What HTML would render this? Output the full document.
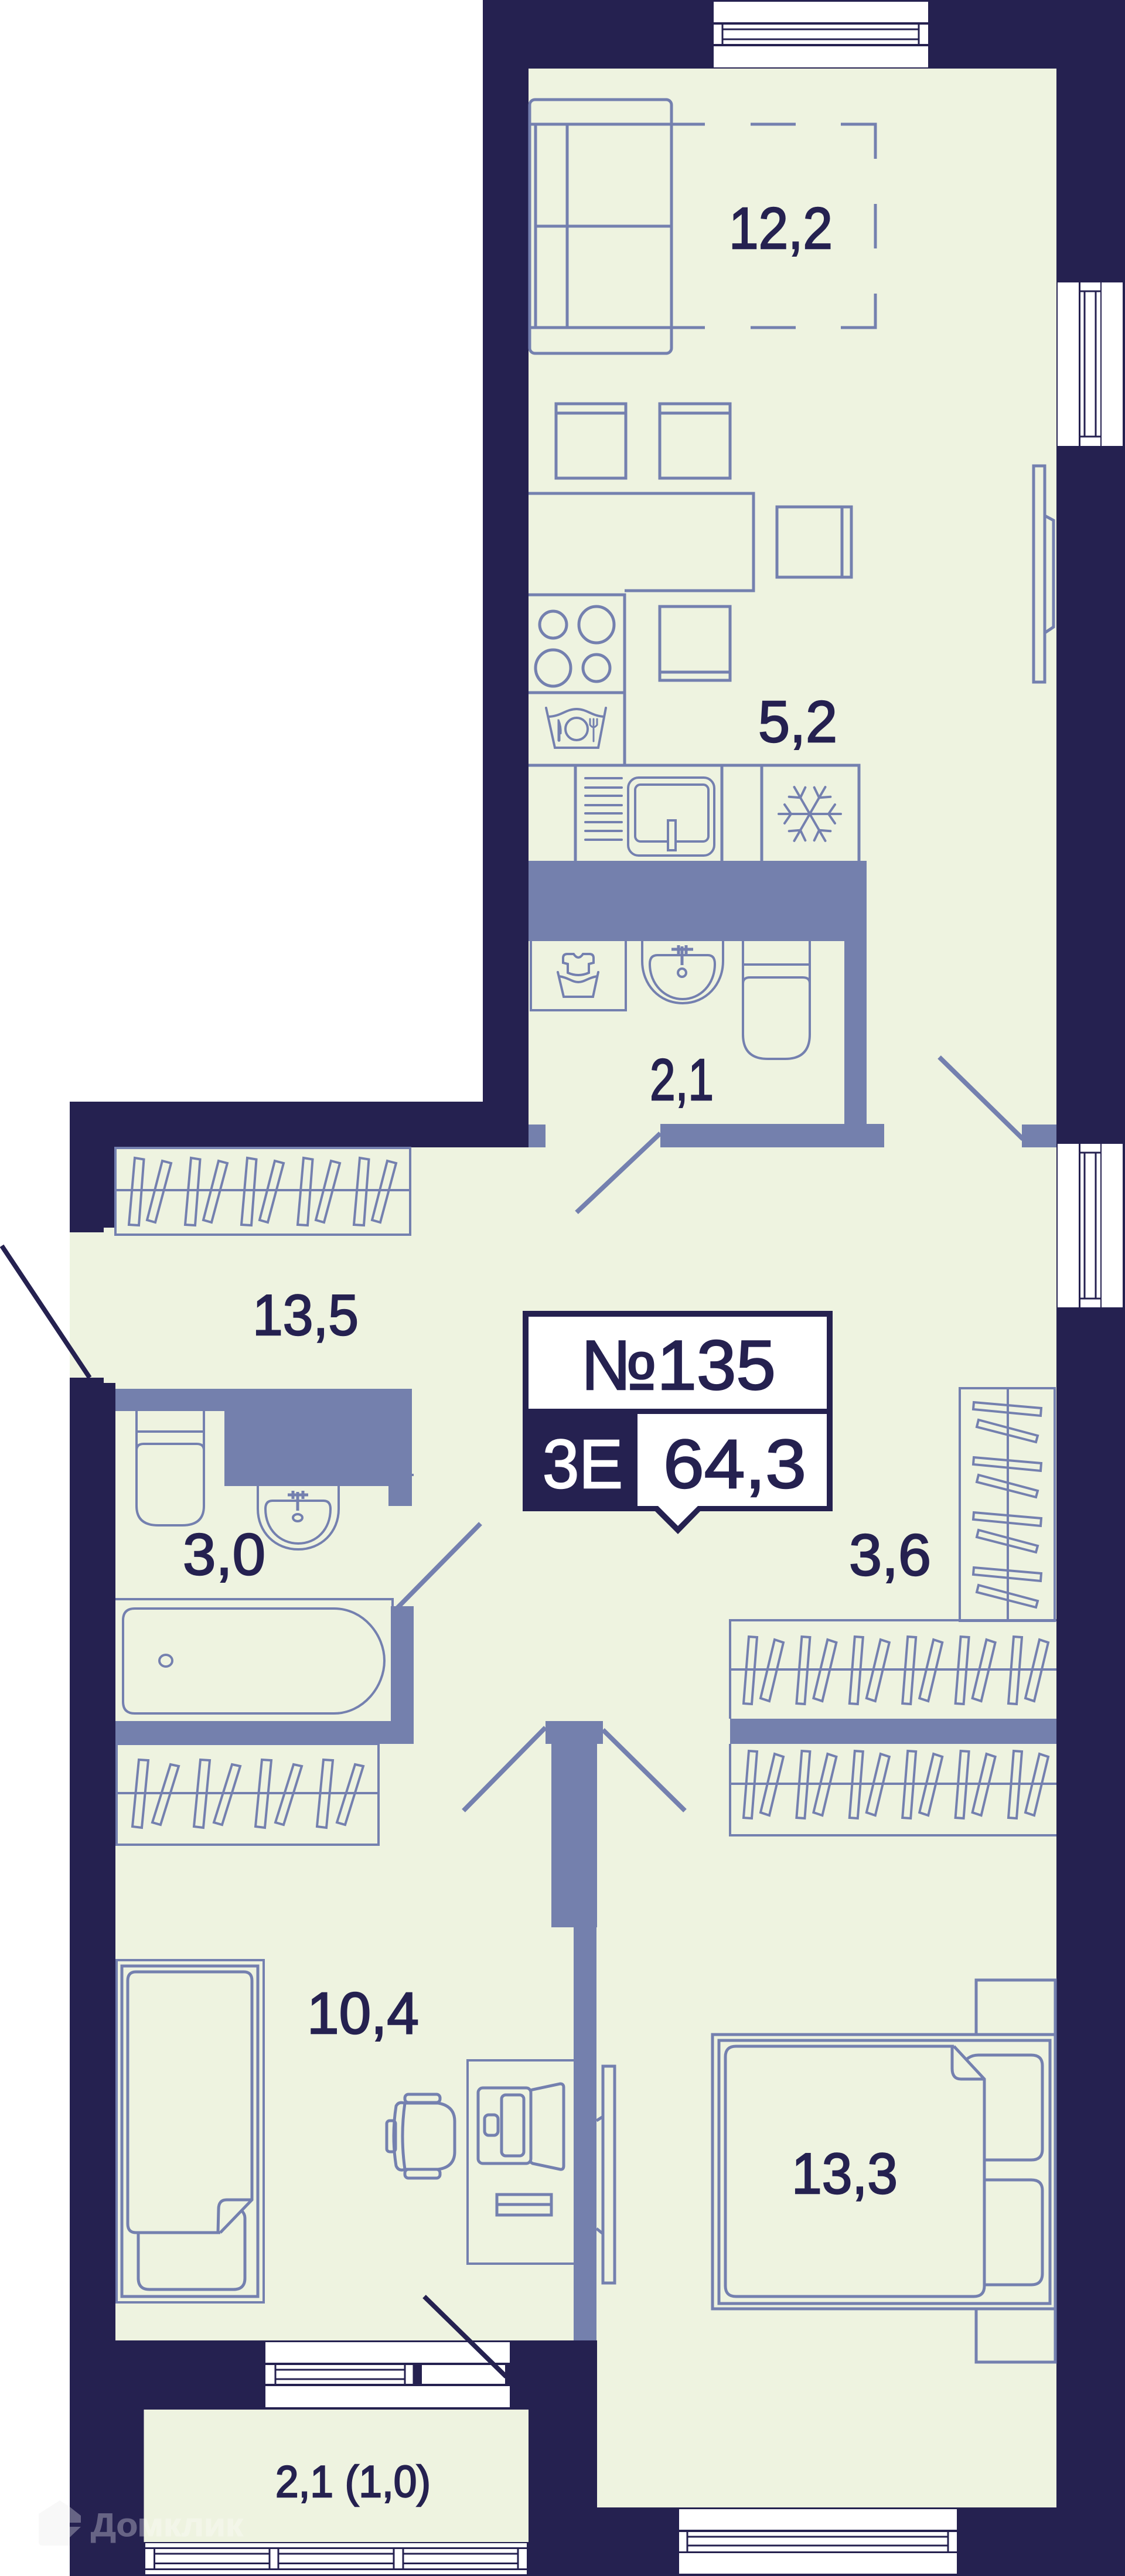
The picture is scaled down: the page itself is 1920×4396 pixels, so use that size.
<!DOCTYPE html>
<html lang="ru">
<head>
<meta charset="utf-8">
<title>Планировка №135</title>
<style>
html,body{margin:0;padding:0;background:#fff;}
svg{display:block;}
text{font-family:"Liberation Sans","Noto Sans CJK SC",sans-serif;fill:#252150;stroke:#252150;stroke-width:2.4;}
.f{fill:none;stroke:#7480af;stroke-width:5;}
.t{fill:none;stroke:#7480af;stroke-width:4;}
.w{fill:#7480ad;}
.d{stroke:#252150;stroke-width:3;fill:none;}
.door{stroke:#7480af;stroke-width:8;fill:none;}
.ddoor{stroke:#252150;stroke-width:8;fill:none;}
.win{fill:#fff;}
</style>
</head>
<body>
<svg width="1920" height="4396" viewBox="0 0 1920 4396" xmlns="http://www.w3.org/2000/svg">
<defs>
<g id="c1" class="t"><polygon points="230,1976 245.5,1978.5 237,2091 220,2090"/><polygon points="277,1981 292,1985 265,2086 251,2082"/></g>
<g id="c2" class="t"><polygon points="237,3003 253,3004 242,3119 226,3117"/><polygon points="291,3011 305,3014 274,3114 260,3110"/></g>
<g id="c3" class="t"><polygon points="1662,2393 1777,2403 1776,2416 1661,2405"/><polygon points="1670,2423 1771,2450 1768,2461 1667,2435"/></g>
<g id="c4" class="t"><polygon points="1278,2793 1292,2794 1283,2908 1269,2907"/><polygon points="1322,2798 1337,2803 1313,2903 1298,2898"/></g>
<g id="arm"><line x1="-53" y1="0" x2="53" y2="0"/><polyline points="-43,-16 -32,0 -43,16"/><polyline points="43,-16 32,0 43,16"/></g>
</defs>

<rect width="1920" height="4396" fill="#fff"/>
<!-- walls -->
<polygon fill="#252150" points="824,0 1920,0 1920,4396 119,4396 119,1880 824,1880"/>
<!-- floors -->
<polygon fill="#eef3e0" points="902,117 1803,117 1803,4279 1019,4279 1019,3994 197,3994 197,2360 177,2360 177,2351 119,2351 119,2103 177,2103 177,2095 197,2095 197,1958 902,1958"/>
<rect x="245.5" y="4112" width="656.5" height="226" fill="#eef3e0"/>

<!-- windows -->
<g class="win">
<rect x="1218" y="3" width="366" height="35"/><rect x="1218" y="42" width="366" height="33"/><rect x="1218" y="79" width="366" height="36"/>
<rect x="1805" y="482" width="36" height="279"/><rect x="1844" y="482" width="34" height="279"/><rect x="1880" y="482" width="36" height="279"/>
<rect x="1805" y="1952" width="36" height="279"/><rect x="1844" y="1952" width="34" height="279"/><rect x="1880" y="1952" width="36" height="279"/>
<rect x="1159" y="4282" width="474" height="35"/><rect x="1159" y="4321" width="474" height="33"/><rect x="1159" y="4357" width="474" height="35"/>
<rect x="453" y="3997" width="417" height="35"/><rect x="453" y="4036" width="409" height="32"/><rect x="453" y="4072" width="417" height="36"/>
<rect x="248" y="4340" width="651" height="7"/><rect x="248" y="4350" width="651" height="33"/><rect x="248" y="4386" width="651" height="7"/>
</g>
<g class="d">
<path d="M1233 42V75M1568 42V75M1233 50H1568M1233 67H1568"/>
<path d="M1844 497H1878M1844 745H1878M1851 497V745M1870 497V745"/>
<path d="M1844 1967H1878M1844 2216H1878M1851 1967V2216M1870 1967V2216"/>
<path d="M1173 4321V4354M1618 4321V4354M1173 4329H1618M1173 4344H1618"/>
<path d="M470 4036V4068M691 4036V4068M706 4036V4068M470 4044H691M470 4060H691"/>
<path d="M263.5 4350V4383M460 4350V4383M475 4350V4383M672 4350V4383M688 4350V4383M884 4350V4383M263 4358H460M263 4374.500H460M475 4358H672M475 4374.500H672M688 4358H884M688 4374.500H884"/>
</g>
<rect x="706" y="4036" width="14" height="32" fill="#252150"/>

<!-- inner walls -->
<g class="w">
<rect x="902" y="1469" width="577" height="137"/>
<rect x="1441" y="1469" width="38" height="489"/>
<rect x="1127" y="1918" width="382" height="40"/>
<rect x="902" y="1919" width="29" height="39"/>
<rect x="1744" y="1919" width="59" height="39"/>
<rect x="197" y="2370" width="506" height="38"/>
<rect x="383" y="2370" width="320" height="166"/>
<rect x="663" y="2500" width="40" height="70"/>
<rect x="703" y="2515" width="3" height="4"/>
<rect x="667" y="2741" width="39" height="235"/>
<rect x="197" y="2937" width="509" height="39"/>
<rect x="931" y="2937" width="98" height="39"/>
<rect x="941" y="2937" width="78" height="352"/>
<rect x="979" y="3289" width="39" height="705"/>
<rect x="1246" y="2933" width="557" height="43"/>
</g>

<!-- doors -->
<line class="door" x1="1603" y1="1804" x2="1746" y2="1944"/>
<line class="door" x1="1127" y1="1934" x2="984" y2="2069"/>
<line class="door" x1="820" y1="2600" x2="678" y2="2744"/>
<line class="door" x1="931" y1="2948" x2="791" y2="3090"/>
<line class="door" x1="1029" y1="2952" x2="1169" y2="3090"/>
<line class="ddoor" x1="3" y1="2126" x2="153" y2="2351"/>
<line class="ddoor" x1="724" y1="3919" x2="864" y2="4056"/>

<!-- sofa + carpet -->
<g class="f">
<rect x="904" y="170" width="242" height="433" rx="9"/>
<path d="M902 212H1203M1281 212H1358M1435 212H1494V271M1494 348V424M1494 501V559H1435M1358 559H1281M1203 559H902"/>
<path d="M914 212V559M968 212V559M914 386H1146"/>
<!-- dining -->
<rect x="949" y="689" width="119" height="127"/><line x1="949" y1="705" x2="1068" y2="705"/>
<rect x="1126" y="689" width="120" height="127"/><line x1="1126" y1="705" x2="1246" y2="705"/>
<polyline points="902,842 1286,842 1286,1008 1066,1008"/>
<rect x="1326" y="865" width="127" height="120"/><line x1="1437" y1="865" x2="1437" y2="985"/>
<rect x="1126" y="1035" width="120" height="126"/><line x1="1126" y1="1147" x2="1246" y2="1147"/>
<!-- tv -->
<rect x="1764" y="795" width="19" height="369"/>
<polyline points="1783,880 1798,888 1798,1070 1783,1080"/>
<!-- stove -->
<polyline points="902,1015 1066,1015 1066,1306"/>
<line x1="902" y1="1182" x2="1066" y2="1182"/>
<circle cx="944" cy="1066" r="23"/><ellipse cx="1018" cy="1066" rx="30" ry="31"/>
<ellipse cx="944" cy="1140" rx="30" ry="31"/><circle cx="1018" cy="1140" r="23"/>
<!-- counter -->
<polyline points="902,1306 1466,1306 1466,1469"/>
<path d="M982 1306V1469M1232 1306V1469M1300 1306V1469"/>
</g>
<g class="t">
<path d="M932 1208L947 1276H1021L1034 1208" stroke-linecap="round"/>
<path d="M937 1223C958 1222 966 1210 984 1210C1002 1210 1010 1222 1031 1223"/>
<circle cx="984" cy="1244" r="19"/>
<path d="M954 1228Q959 1240 958 1252L956 1253V1264Q954 1267 952 1264V1228Z" fill="#7480af" stroke-width="1"/>
<path d="M1013 1240V1265M1007 1227V1237Q1013 1245 1019 1237V1227M1013 1227V1240" stroke-width="3" stroke-linecap="round"/>
<path d="M999 1328H1061M999 1344H1061M999 1358H1061M999 1374H1061M999 1388H1061M999 1403H1061M999 1418H1061M999 1433H1061" stroke-linecap="round"/>
<rect x="1072" y="1327" width="147" height="133" rx="18"/>
<rect x="1084" y="1339" width="125" height="97" rx="9"/>
<rect x="1140" y="1400" width="13" height="51" fill="#eef3e0"/>
</g>
<g class="t" transform="translate(1382 1389)" stroke-linecap="round">
<use href="#arm"/><use href="#arm" transform="rotate(60)"/><use href="#arm" transform="rotate(120)"/>
</g>

<!-- bathroom 1 -->
<g class="t">
<path d="M906 1606V1724H1068V1606"/>
<polyline points="952,1659 962,1701 1012,1701 1021,1659" stroke-linecap="round"/>
<path d="M954 1666C970 1668 976 1676 987 1676C998 1676 1004 1668 1020 1666"/>
<path d="M968 1628H979Q987 1640 995 1628H1006Q1013 1628 1013 1635V1643L1005 1645V1660Q987 1668 969 1660V1645L961 1643V1635Q961 1628 968 1628Z"/>
<path d="M1096 1606V1640C1096 1680 1125 1712 1165 1712C1205 1712 1234 1680 1234 1640V1606"/>
<path d="M1122 1630H1208Q1220 1630 1220 1645C1220 1680 1195 1705 1165 1705C1135 1705 1109 1680 1109 1645Q1109 1630 1122 1630Z"/>
<path d="M1146 1620H1183M1158 1613V1628M1171 1613V1628M1164 1615V1647" stroke-width="5"/>
<circle cx="1164" cy="1660" r="7"/>
<path d="M1268 1606V1765Q1268 1807 1310 1807H1340Q1382 1807 1382 1765V1606M1268 1646H1382M1268 1678Q1268 1668 1280 1668H1370Q1382 1668 1382 1678"/>
</g>

<!-- closets -->
<g class="t">
<rect x="197" y="1959" width="503" height="148"/><line x1="197" y1="2031" x2="700" y2="2031"/>
<use href="#c1"/><use href="#c1" x="96"/><use href="#c1" x="192"/><use href="#c1" x="288"/><use href="#c1" x="384"/>
<rect x="199" y="2976" width="447" height="172"/><line x1="199" y1="3060" x2="646" y2="3060"/>
<use href="#c2"/><use href="#c2" x="105"/><use href="#c2" x="210"/><use href="#c2" x="315"/>
<rect x="1638" y="2369" width="162" height="397"/><line x1="1720" y1="2369" x2="1720" y2="2766"/>
<use href="#c3"/><use href="#c3" y="94"/><use href="#c3" y="188"/><use href="#c3" y="282"/>
<polyline points="1803,2765 1246,2765 1246,2933"/>
<polyline points="1246,2976 1246,3132 1803,3132"/>
<line x1="1246" y1="2849" x2="1803" y2="2849"/><line x1="1246" y1="3044" x2="1803" y2="3044"/>
<use href="#c4"/><use href="#c4" x="90.4"/><use href="#c4" x="180.8"/><use href="#c4" x="271.2"/><use href="#c4" x="361.6"/><use href="#c4" x="452"/>
<use href="#c4" y="195"/><use href="#c4" x="90.4" y="195"/><use href="#c4" x="180.8" y="195"/><use href="#c4" x="271.2" y="195"/><use href="#c4" x="361.6" y="195"/><use href="#c4" x="452" y="195"/>
</g>

<!-- bathroom 2 -->
<g class="t">
<path d="M233 2408V2570Q233 2603 270 2603H311Q348 2603 348 2570V2408M233 2443H348M233 2475Q233 2464 245 2464H336Q348 2464 348 2475"/>
<path d="M440 2536V2575C440 2615 470 2644 509 2644C548 2644 578 2615 578 2575V2536"/>
<path d="M465 2561H552Q564 2561 564 2575C564 2610 540 2634 509 2634C478 2634 453 2610 453 2575Q453 2561 465 2561Z"/>
<path d="M491 2551H526M500 2544V2558M517 2544V2558M508 2546V2578" stroke-width="5"/>
<ellipse cx="508" cy="2590" rx="8" ry="6"/>
<polyline points="197,2729 670,2729 670,2741"/>
<path d="M230 2745H570C620 2745 656 2790 656 2834C656 2878 620 2924 570 2924H230Q210 2924 210 2904V2765Q210 2745 230 2745Z"/>
<ellipse cx="283" cy="2834" rx="11" ry="10"/>
</g>

<!-- bed left -->
<g class="f">
<rect x="199" y="3345" width="251" height="584" stroke-width="4"/>
<rect x="208" y="3355" width="232" height="564"/>
<path d="M376 3810H232Q218 3810 218 3795V3380Q218 3365 232 3365H416Q430 3365 430 3380V3754L376 3810"/>
<path d="M430 3754H387Q373 3754 373 3770L372 3810"/>
<path d="M236 3810V3888Q236 3907 255 3907H398Q418 3907 418 3888V3785Q418 3778 412 3772"/>
<!-- desk -->
<polyline points="979,3516 798,3516 798,3863 979,3863" stroke-width="4"/>
<rect x="816" y="3563" width="90" height="129" rx="8"/>
<rect x="856" y="3575" width="38" height="104" rx="7"/>
<rect x="827" y="3609" width="23" height="35" rx="7"/>
<path d="M906 3567L909 3566L956 3556Q962 3556 962 3562V3696Q962 3703 956 3702L909 3692L906 3690"/>
<rect x="848" y="3745" width="93" height="35"/><line x1="848" y1="3762" x2="941" y2="3762"/>
<!-- chair -->
<path d="M691 3589H748Q776 3594 776 3620V3672Q776 3698 748 3702H691Q683 3645 691 3589Z"/>
<rect x="691" y="3574" width="60" height="14" rx="6"/>
<rect x="691" y="3702" width="60" height="15" rx="6"/>
<path d="M690 3589Q680 3586 676 3594Q668 3645 676 3696Q680 3706 692 3702"/>
<rect x="660" y="3619" width="15" height="53" rx="5"/>
<!-- tv bedroom -->
<rect x="1029" y="3526" width="20" height="370"/>
<polyline points="1018,3619 1029,3612"/><polyline points="1018,3803 1029,3812"/>
<!-- bed right -->
<rect x="1216" y="3472" width="585" height="468"/>
<rect x="1227" y="3482" width="565" height="449"/>
<path d="M1628 3492H1256Q1238 3492 1238 3510V3901Q1238 3919 1256 3919H1662Q1680 3919 1680 3901V3548L1628 3492"/>
<path d="M1680 3548L1640 3548Q1625 3548 1625 3530V3492"/>
<path d="M1650 3514Q1658 3507 1670 3507H1760Q1779 3507 1779 3525V3668Q1779 3686 1760 3686H1680"/>
<path d="M1680 3720H1760Q1779 3720 1779 3738V3880Q1779 3899 1760 3899H1680"/>
<polyline points="1666,3472 1666,3379 1801,3379 1801,3472"/>
<polyline points="1666,3940 1666,4031 1801,4031 1801,3940"/>
</g>

<!-- badge -->
<polygon fill="#252150" points="892,2237 1421,2237 1421,2579 1195,2579 1157,2618 1118,2579 892,2579"/>
<rect x="902" y="2247" width="509" height="157" fill="#fff"/>
<polygon fill="#fff" points="1088,2413 1411,2413 1411,2570 1191,2570 1157,2604 1123,2570 1088,2570"/>

<!-- labels -->
<text x="1244" y="424" font-size="100" textLength="177" lengthAdjust="spacingAndGlyphs">12,2</text>
<text x="1294" y="1266" font-size="100" textLength="135" lengthAdjust="spacingAndGlyphs">5,2</text>
<text x="1109" y="1877" font-size="100" textLength="109" lengthAdjust="spacingAndGlyphs">2,1</text>
<text x="431" y="2278" font-size="98" textLength="181" lengthAdjust="spacingAndGlyphs">13,5</text>
<text x="312" y="2687" font-size="100" textLength="141" lengthAdjust="spacingAndGlyphs">3,0</text>
<text x="1449" y="2688" font-size="100" textLength="140" lengthAdjust="spacingAndGlyphs">3,6</text>
<text x="524" y="3470" font-size="100" textLength="191" lengthAdjust="spacingAndGlyphs">10,4</text>
<text x="1351" y="3743" font-size="98" textLength="181" lengthAdjust="spacingAndGlyphs">13,3</text>
<text x="470" y="4261" font-size="76" textLength="265" lengthAdjust="spacingAndGlyphs">2,1 (1,0)</text>
<text x="991" y="2371" font-size="120" textLength="333" lengthAdjust="spacingAndGlyphs">№135</text>
<text x="1132" y="2539" font-size="118" textLength="244" lengthAdjust="spacingAndGlyphs">64,3</text>
<text x="926" y="2539" font-size="118" textLength="137" lengthAdjust="spacingAndGlyphs" style="fill:#fff;stroke:#fff">3Е</text>

<!-- watermark -->
<g opacity="0.3">
<path d="M119 4278L138 4293V4305H119ZM119 4312H138L119 4330Z" fill="#fff"/>
<text x="155" y="4328" font-size="56" font-weight="bold" textLength="260" lengthAdjust="spacingAndGlyphs" style="fill:#fff;stroke:#fff;stroke-width:1">Домклик</text>
</g>
<path d="M66 4290L102 4267L119 4278V4344H72Q66 4344 66 4338Z" fill="#f8f8f8"/>
</svg>
</body>
</html>
